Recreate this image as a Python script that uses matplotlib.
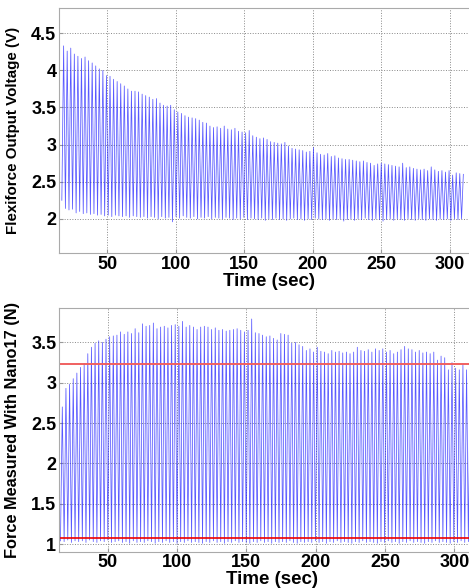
import numpy as np
import matplotlib.pyplot as plt

plt.rcParams['font.family'] = ['Liberation Sans', 'DejaVu Sans']
plt.rcParams['font.weight'] = 'bold'

# Flexiforce voltage: peak and trough of every loading cycle (V)
top_peaks = [
    4.33, 4.26, 4.30, 4.22, 4.19, 4.16, 4.18, 4.13, 4.10, 4.06,
    4.02, 4.00, 3.93, 3.92, 3.88, 3.85, 3.82, 3.79, 3.75, 3.72,
    3.72, 3.71, 3.68, 3.66, 3.64, 3.61, 3.62, 3.56, 3.53, 3.52,
    3.53, 3.47, 3.44, 3.42, 3.39, 3.37, 3.36, 3.35, 3.33, 3.30,
    3.29, 3.25, 3.23, 3.24, 3.22, 3.25, 3.21, 3.20, 3.22, 3.18,
    3.17, 3.16, 3.19, 3.12, 3.10, 3.08, 3.09, 3.07, 3.04, 3.03,
    3.02, 3.01, 3.03, 2.98, 2.95, 2.94, 2.93, 2.92, 2.90, 2.91,
    2.96, 2.89, 2.87, 2.86, 2.88, 2.84, 2.85, 2.82, 2.81, 2.80,
    2.80, 2.79, 2.78, 2.77, 2.78, 2.76, 2.75, 2.72, 2.74, 2.75,
    2.74, 2.73, 2.72, 2.71, 2.70, 2.75, 2.69, 2.70, 2.68, 2.67,
    2.66, 2.67, 2.65, 2.70, 2.66, 2.64, 2.65, 2.63, 2.65, 2.59,
    2.62, 2.61, 2.60,
]
top_troughs = [
    2.25, 2.14, 2.12, 2.13, 2.08, 2.10, 2.07, 2.08, 2.06, 2.07,
    2.05, 2.06, 2.04, 2.05, 2.03, 2.05, 2.04, 2.03, 2.04, 2.02,
    2.04, 2.03, 2.02, 2.03, 2.01, 2.03, 2.02, 2.00, 2.03, 2.01,
    2.02, 1.96, 2.03, 2.01, 2.04, 2.02, 2.01, 2.03, 2.00, 2.02,
    2.01, 2.03, 2.00, 2.02, 2.01, 2.00, 2.02, 2.01, 1.99, 2.01,
    2.00, 2.02, 1.99, 2.01, 2.00, 1.99, 2.01, 1.98, 2.00, 1.99,
    2.01, 1.99, 2.00, 1.98, 2.00, 2.01, 1.99, 2.00, 1.98, 2.00,
    1.99, 2.01, 2.00, 1.99, 2.00, 1.98, 2.00, 1.99, 2.00, 1.97,
    1.99, 2.00, 1.98, 2.00, 1.99, 2.01, 1.99, 1.98, 2.00, 1.99,
    1.97, 1.99, 2.00, 1.98, 2.00, 1.99, 1.98, 2.00, 1.99, 1.98,
    2.00, 1.99, 1.98, 2.00, 1.99, 1.98, 2.00, 1.99, 2.00, 1.98,
    2.00, 1.99, 2.00,
]

# Nano17 force: peak and trough of every loading cycle (N)
bot_peaks = [
    2.70, 2.93, 2.98, 3.05, 3.12, 3.19, 3.24, 3.36, 3.44, 3.49,
    3.52, 3.50, 3.54, 3.57, 3.58, 3.59, 3.63, 3.60, 3.63, 3.61,
    3.67, 3.62, 3.73, 3.70, 3.71, 3.74, 3.67, 3.69, 3.70, 3.68,
    3.71, 3.72, 3.70, 3.76, 3.69, 3.71, 3.69, 3.66, 3.69, 3.70,
    3.69, 3.66, 3.68, 3.65, 3.66, 3.64, 3.65, 3.66, 3.67, 3.65,
    3.63, 3.65, 3.79, 3.62, 3.61, 3.59, 3.57, 3.58, 3.55, 3.53,
    3.61, 3.60, 3.59, 3.49, 3.50, 3.47, 3.45, 3.40, 3.42, 3.38,
    3.44, 3.39, 3.38, 3.36, 3.40, 3.38, 3.39, 3.37, 3.38, 3.36,
    3.38, 3.44, 3.40, 3.39, 3.41, 3.38, 3.42, 3.40, 3.42, 3.38,
    3.40, 3.36, 3.38, 3.41, 3.45, 3.42, 3.41, 3.38, 3.40, 3.37,
    3.38, 3.36, 3.38, 3.28, 3.33, 3.31, 3.16, 3.25, 3.18, 3.16,
    3.22, 3.16, 3.18, 3.12,
]
bot_troughs = [
    1.04, 1.03, 1.05, 1.02, 1.04, 1.03, 1.04, 1.02, 1.05, 1.03,
    1.02, 1.04, 1.03, 1.05, 1.02, 1.03, 1.04, 1.02, 1.03, 1.01,
    1.04, 1.02, 1.03, 1.02, 1.04, 1.03, 1.01, 1.03, 1.02, 1.04,
    1.02, 1.03, 1.01, 1.03, 1.02, 1.04, 1.02, 1.03, 1.02, 1.01,
    1.03, 1.02, 1.04, 1.02, 1.03, 1.01, 1.03, 1.02, 1.04, 1.02,
    1.03, 1.02, 1.01, 1.03, 1.02, 1.04, 1.02, 1.03, 1.01, 1.03,
    1.02, 1.03, 1.02, 1.04, 1.02, 1.01, 1.03, 1.02, 1.03, 1.02,
    1.04, 1.02, 1.03, 1.01, 1.03, 1.02, 1.04, 1.02, 1.03, 1.02,
    1.01, 1.03, 1.02, 1.04, 1.02, 1.03, 1.02, 1.01, 1.03, 1.02,
    1.04, 1.02, 1.03, 1.01, 1.03, 1.02, 1.04, 1.02, 1.03, 1.02,
    1.01, 1.03, 1.02, 1.04, 1.02, 1.03, 1.02, 1.01, 1.03, 1.02,
    1.04, 1.02, 1.03, 1.02,
]

# Threshold lines on the force plot (N)
force_upper = 3.235
force_lower = 1.07

# Time span of the recordings (sec)
top_span = (17.0, 310.0)
bot_span = (16.0, 314.0)


def zigzag(peaks, troughs):
    y = np.empty(2 * len(peaks))
    y[0::2] = troughs
    y[1::2] = peaks
    return y


fig = plt.figure(figsize=(4.69, 5.88), dpi=100)
ax1 = fig.add_axes([0.126, 0.5697, 0.897, 0.4167])
ax2 = fig.add_axes([0.126, 0.0617, 0.908, 0.415])

y1 = zigzag(top_peaks, top_troughs)
t1 = np.linspace(top_span[0], top_span[1], len(y1))
ax1.plot(t1, y1, color='#2020ff', lw=0.55, alpha=0.75)
ax1.set_ylim(1.54, 4.84)
ax1.set_yticks([2, 2.5, 3, 3.5, 4, 4.5])
ax1.set_yticklabels(['2', '2.5', '3', '3.5', '4', '4.5'])
ax1.set_ylabel('Flexiforce Output Voltage (V)', fontsize=10.9, fontweight='bold')

y2 = zigzag(bot_peaks, bot_troughs)
t2 = np.linspace(bot_span[0], bot_span[1], len(y2))
ax2.plot(t2, y2, color='#2020ff', lw=0.55, alpha=0.75)
ax2.axhline(force_upper, color='#f06060', lw=1.4)
ax2.axhline(force_lower, color='#ee0000', lw=1.2)
ax2.set_ylim(0.905, 3.93)
ax2.set_yticks([1, 1.5, 2, 2.5, 3, 3.5])
ax2.set_yticklabels(['1', '1.5', '2', '2.5', '3', '3.5'])
ax2.set_ylabel('Force Measured With Nano17 (N)', fontsize=11.8, fontweight='bold')

for ax in (ax1, ax2):
    ax.set_xlim(15, 322)
    ax.set_xticks([50, 100, 150, 200, 250, 300])
    ax.set_xlabel('Time (sec)', fontsize=13.5, fontweight='bold', labelpad=0)
    ax.grid(True, color='#888888', ls=':', lw=0.7)
    ax.tick_params(labelsize=13, direction='in', length=3, color='#999999', pad=2)
    for s in ax.spines.values():
        s.set_color('#aaaaaa')
    ax.yaxis.set_label_coords(-0.092, 0.5)

fig.savefig('out.png', dpi=100)
